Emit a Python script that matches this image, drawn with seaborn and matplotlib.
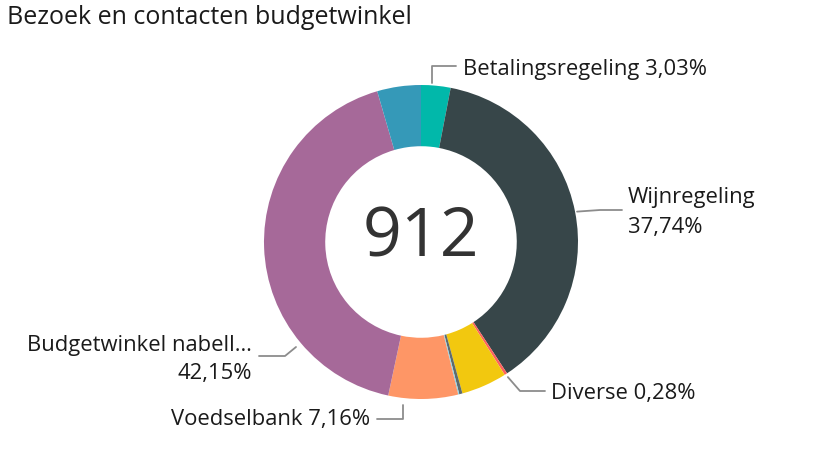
import numpy as np
import matplotlib
matplotlib.use("Agg")
import matplotlib.pyplot as plt
import seaborn as sns

# data (percentages, clockwise from top)
categorieen = ["Betalingsregeling", "Wijnregeling", "Diverse", "Overig 1", "Overig 2",
               "Overig 3", "Voedselbank", "Budgetwinkel nabell…", "Overig 4"]
percentages = [3.03, 37.74, 0.28, 4.70, 0.33, 0.11, 7.16, 42.15, 4.50]
kleuren = ["#01B8AA", "#374649", "#FD625E", "#F2C80F", "#5F6B6D",
           "#8AD4EB", "#FE9666", "#A66999", "#3599B8"]
totaal = "912"
titel = "Bezoek en contacten budgetwinkel"

sns.set_theme(style="white")
plt.rcParams['font.family'] = ['Open Sans', 'DejaVu Sans']

W, H = 840, 457
fig = plt.figure(figsize=(W / 100, H / 100), dpi=100)
ax = fig.add_axes([0, 0, 1, 1])

cx, cy, r = 421, H - 242, 157
wedges, _ = ax.pie(percentages, colors=kleuren, startangle=90, counterclock=False,
                   center=(cx, cy), radius=r, wedgeprops=dict(width=r * 0.39, linewidth=0),
                   frame=True)
ax.set_xlim(0, W)
ax.set_ylim(0, H)
ax.set_aspect('equal')
ax.axis('off')

# center number
ax.text(cx, cy + 3, totaal, ha='center', va='center', fontsize=49, color='#333333')

# title
fig.text(7 / W, 1 - 17 / H, titel, ha='left', va='center', fontsize=18, color='#1a1a1a')

tekst = '#1a1a1a'


def fmt(p):
    return f"{p:.2f}".replace('.', ',') + "%"


def anker(i):
    w = wedges[i]
    a = np.deg2rad((w.theta1 + w.theta2) / 2)
    return cx + r * np.cos(a), cy + r * np.sin(a)


lijn = dict(color='#8c8c8c', lw=1.3)
fs = 15.8

# Betalingsregeling
x0, y0 = anker(0)
ax.plot([x0 - 4, x0 - 4, 456], [y0 + 3, H - 66, H - 66], **lijn)
ax.text(463, H - 70, f"{categorieen[0]} {fmt(percentages[0])}", ha='left', va='center',
        fontsize=fs, color=tekst)

# Wijnregeling
x0, y0 = anker(1)
ax.plot([x0 + 2, 600, 622], [y0, H - 210, H - 210], **lijn)
ax.text(628, H - 197, categorieen[1], ha='left', va='center', fontsize=fs, color=tekst)
ax.text(628, H - 227, fmt(percentages[1]), ha='left', va='center', fontsize=fs, color=tekst)

# Diverse
x0, y0 = anker(2)
ax.plot([x0 + 2, 520, 545], [y0 - 3, H - 391, H - 391], **lijn)
ax.text(551, H - 394, f"{categorieen[2]} {fmt(percentages[2])}", ha='left', va='center',
        fontsize=fs, color=tekst)

# Voedselbank
ax.plot([403, 403, 377], [H - 405, H - 419, H - 419], **lijn)
ax.text(370, H - 419, f"{categorieen[6]} {fmt(percentages[6])}", ha='right', va='center',
        fontsize=fs, color=tekst)

# Budgetwinkel
ax.plot([296, 285, 259], [H - 347, H - 356, H - 356], **lijn)
ax.text(252, H - 346, categorieen[7], ha='right', va='center', fontsize=fs, color=tekst)
ax.text(252, H - 374, fmt(percentages[7]), ha='right', va='center', fontsize=fs, color=tekst)

fig.savefig("out.png", dpi=100, facecolor='white')
